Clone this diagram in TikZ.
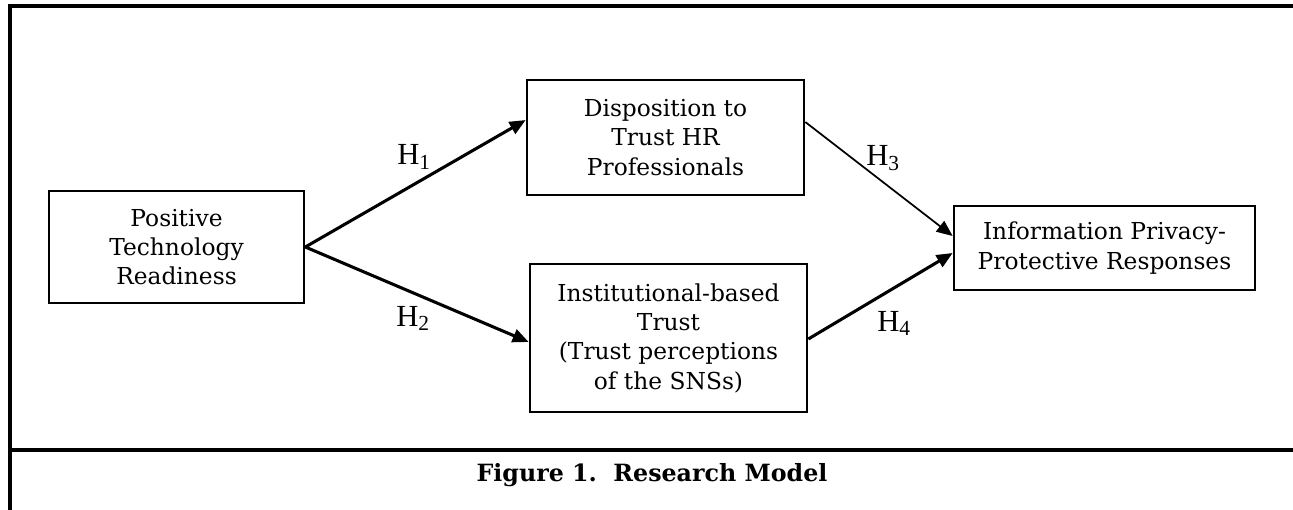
\documentclass[tikz,border=0pt]{standalone}
\usepackage{fontspec}
\setmainfont{DejaVu Serif}
\newfontfamily\lblfont{Liberation Serif}
\usetikzlibrary{arrows.meta}
\begin{document}
\begin{tikzpicture}[x=0.75pt,y=-0.75pt,
  txt/.style={font=\fontsize{17.5}{22}\selectfont, align=center},
  box/.style={txt, draw, line width=2pt, inner sep=0pt},
  lbl/.style={font=\lblfont\fontsize{23}{26}\selectfont, inner sep=0pt, anchor=base west},
  thickarr/.style={line width=2.3pt, -{Triangle[length=12pt,width=10pt]}},
  thinarr/.style={line width=1.3pt, -{Triangle[length=12pt,width=10pt]}},
  frame/.style={line width=2.6pt}]
\useasboundingbox (0,0) rectangle (1293,510);
% frame
\coordinate (ftl) at (10,6);
\coordinate (ftr) at (1293,6);
\coordinate (fbl) at (10,510);
\coordinate (fml) at (10,450);
\coordinate (fmr) at (1293,450);
\draw[frame] (fbl) -- (ftl) -- (ftr);
\draw[frame] (fml) -- (fmr);
% boxes
\node[box, minimum width=191.25pt, minimum height=84pt] (ptr) at (176.5,247) {Positive\\Technology\\Readiness};
\node[box, minimum width=207.75pt, minimum height=86.25pt] (disp) at (665.5,137.5) {Disposition to\\Trust HR\\Professionals};
\node[box, minimum width=207.75pt, minimum height=111pt] (inst) at (668.5,338) {Institutional-based\\Trust\\(Trust perceptions\\of the SNSs)};
\node[box, minimum width=225.75pt, minimum height=63pt] (info) at (1104.5,248) {Information Privacy-\\Protective Responses};
% arrows
\draw[thickarr] (ptr.east) -- ([yshift=13.1pt]disp.west);
\draw[thickarr] (ptr.east) -- ([yshift=-3pt]inst.west);
\draw[thinarr] ([yshift=11.6pt]disp.east) -- ([yshift=9pt]info.west);
\draw[thickarr] ([yshift=-0.75pt]inst.east) -- ([yshift=-3.75pt]info.west);
% labels
\node[lbl] (h1) at (397,165) {H\textsubscript{1}};
\node[lbl] (h2) at (396,326) {H\textsubscript{2}};
\node[lbl] (h3) at (866,166) {H\textsubscript{3}};
\node[lbl] (h4) at (877,331) {H\textsubscript{4}};
% caption
\node[font=\fontsize{17.8}{20}\selectfont\bfseries, inner sep=0pt] (cap) at (652,475) {Figure 1.\ \ Research Model};
\end{tikzpicture}
\end{document}
